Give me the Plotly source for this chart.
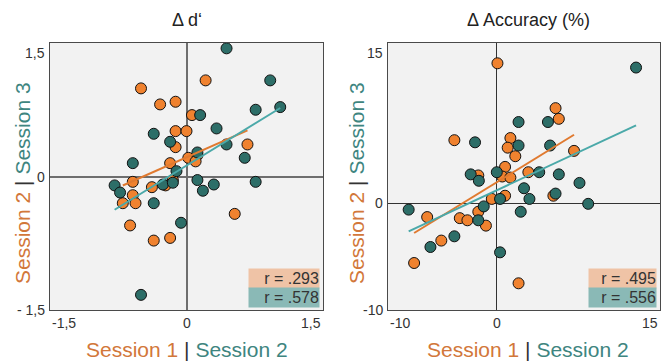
import numpy as np
import plotly.graph_objects as go

# ---------------- data ----------------
# Panel A: Δ d'
dp_s1_x = [-0.50, 0.21, -0.29, -0.12, 0.06, -0.12, 0.00, -0.12, 0.67, 0.02, 0.12, 0.10,
           -0.18, -0.59, -0.38, -0.23, -0.15, -0.59, -0.70, -0.56, -0.62, -0.36, -0.18, 0.53]
dp_s2_y = [0.99, 1.08, 0.81, 0.84, 0.69, 0.51, 0.51, 0.33, 0.36, 0.21, 0.24, 0.17,
           0.15, -0.06, -0.12, -0.10, -0.04, -0.21, -0.30, -0.30, -0.55, -0.72, -0.69, -0.42]
dp_s2_x = [0.44, 0.92, 0.76, 1.03, 0.15, 0.33, -0.36, -0.18, 0.44, 0.64, 0.12, -0.59,
           -0.11, 0.12, 0.30, 0.18, 0.76, -0.79, -0.73, -0.26, -0.15, -0.36, -0.06, -0.50]
dp_s3_y = [1.44, 1.08, 0.75, 0.78, 0.69, 0.54, 0.48, 0.39, 0.36, 0.21, 0.27, 0.15,
           0.06, -0.04, -0.09, -0.16, -0.06, -0.10, -0.18, -0.09, -0.07, -0.30, -0.52, -1.33]

# Panel B: Δ Accuracy (%)
acc_s1_x = [0.06, 5.4, 5.7, -3.9, 1.25, 1.0, 1.7, 7.1, 0.76, -1.7, 0.5, 1.25,
            2.9, 0.76, -0.46, 5.2, -6.4, -3.4, -2.7, -1.7, -1.0, -5.1, -7.6, 2.0]
acc_s2_y = [13.1, 8.9, 7.9, 5.9, 6.1, 5.2, 4.4, 4.9, 3.4, 2.6, 2.5, 2.4,
            2.9, 0.7, 0.4, 0.7, -1.3, -1.4, -1.6, -0.8, -2.1, -3.5, -5.6, -7.5]
acc_s2_x = [12.8, 2.0, 4.7, -2.0, 2.0, 4.9, -2.4, -1.65, 0.0, 3.9, 5.7, 7.6,
            2.5, 5.4, 3.0, 0.3, 8.4, -8.1, -1.2, -1.7, 2.2, -3.9, -6.1, 0.3]
acc_s3_y = [12.7, 7.6, 7.6, 5.7, 5.4, 5.4, 2.7, 2.1, 2.9, 2.9, 2.7, 1.9,
            1.4, 0.9, 0.4, 0.4, -0.06, -0.6, -0.3, -1.6, -0.8, -3.1, -4.1, -4.6]

panel_titles = ["Δ d‘", "Δ Accuracy (%)"]
r_labels_a = ["r = .293", "r = .578"]
r_labels_b = ["r = .495", "r = .556"]
ticks_a = [-1.5, 0, 1.5]
ticktext_ax = ["-1,5", "0", "1,5"]
ticktext_ay = ["- 1,5", "0", "1,5"]
ticks_b = [-10, 0, 15]
ticktext_b = ["-10", "0", "15"]

# ---------------- style ----------------
W, H = 665, 363
ORANGE = "#F0822F"
TEAL = "#2D6E68"
ORANGE_LINE = "#E07A30"
TEAL_LINE = "#4BA9A9"
ORANGE_BOX = "#EFC3A6"
TEAL_BOX = "#8AB9B6"
ORANGE_TXT = "#D2773A"
TEAL_TXT = "#3E8580"
FONT = "Liberation Sans, Arial, sans-serif"

fig = go.Figure()


def add_panel(xs_o, ys_o, xs_t, ys_t, xa, ya):
    for xs, ys, col in [(xs_o, ys_o, ORANGE), (xs_t, ys_t, TEAL)]:
        fig.add_trace(go.Scatter(x=xs, y=ys, mode="markers", xaxis=xa, yaxis=ya,
                                 marker=dict(size=11, color=col, line=dict(color="#111", width=1)),
                                 showlegend=False))
    for xs, ys, lcol in [(xs_o, ys_o, ORANGE_LINE), (xs_t, ys_t, TEAL_LINE)]:
        m, b = np.polyfit(xs, ys, 1)
        lx = np.array([min(xs), max(xs)])
        fig.add_trace(go.Scatter(x=lx, y=m * lx + b, mode="lines", xaxis=xa, yaxis=ya,
                                 line=dict(color=lcol, width=2), showlegend=False))


add_panel(dp_s1_x, dp_s2_y, dp_s2_x, dp_s3_y, "x", "y")
add_panel(acc_s1_x, acc_s2_y, acc_s2_x, acc_s3_y, "x2", "y2")

px = lambda v: v / W
py = lambda v: 1 - v / H

ax_common = dict(showgrid=False, showline=True, mirror=True, linecolor="#4a4a4a", linewidth=1,
                 ticks="", showticklabels=False)
fig.update_layout(
    width=W, height=H, margin=dict(l=0, r=0, t=0, b=0),
    paper_bgcolor="white", plot_bgcolor="#F2F2F2",
    font=dict(family=FONT, color="#333"),
    xaxis=dict(domain=[px(50), px(323)], range=[-1.5, 1.5], anchor="y",
               zeroline=True, zerolinecolor="#6e6e6e", zerolinewidth=1.5, **ax_common),
    yaxis=dict(domain=[py(310), py(43)], range=[-1.5, 1.5], anchor="x",
               zeroline=True, zerolinecolor="#6e6e6e", zerolinewidth=1.5, **ax_common),
    xaxis2=dict(domain=[px(388), px(660)], range=[-10, 15], anchor="y2",
                zeroline=True, zerolinecolor="#333", zerolinewidth=1, **ax_common),
    yaxis2=dict(domain=[py(310), py(43)], range=[-10, 15], anchor="x2",
                zeroline=True, zerolinecolor="#333", zerolinewidth=1, **ax_common),
)

ann = []
# panel titles
for t, cx in zip(panel_titles, [186.5, 528]):
    ann.append(dict(text=t, x=px(cx), y=py(20), xref="paper", yref="paper", showarrow=False,
                    font=dict(size=18, color="#222"), xanchor="center", yanchor="middle"))

# axis titles
xt = (f"<span style='color:{ORANGE_TXT}'>Session 1</span> <span style='color:#333'>|</span> "
      f"<span style='color:{TEAL_TXT}'>Session 2</span>")
yt = (f"<span style='color:{ORANGE_TXT}'>Session 2</span> <span style='color:#333'>|</span> "
      f"<span style='color:{TEAL_TXT}'>Session 3</span>")
for cx in [186.5, 528]:
    ann.append(dict(text=xt, x=px(cx), y=py(349), xref="paper", yref="paper", showarrow=False,
                    font=dict(size=21), xanchor="center", yanchor="middle"))
for cx in [22, 356]:
    ann.append(dict(text=yt, x=px(cx), y=py(183), xref="paper", yref="paper", showarrow=False,
                    font=dict(size=21), textangle=-90, xanchor="center", yanchor="middle"))

# tick labels
def tick_labels(xa, ya, vals, xtext, ytext):
    n = len(vals)
    for i, (v, t) in enumerate(zip(vals, xtext)):
        anc = "left" if i == 0 else ("right" if i == n - 1 else "center")
        ann.append(dict(text=t, x=v, y=0, xref=xa, yref=ya + " domain", yshift=-3,
                        showarrow=False, font=dict(size=14, color="#333"),
                        xanchor=anc, yanchor="top"))
    for i, (v, t) in enumerate(zip(vals, ytext)):
        anc = "top" if i == n - 1 else "middle"
        ann.append(dict(text=t, x=0, y=v, xref=xa + " domain", yref=ya, xshift=-3,
                        showarrow=False, font=dict(size=14, color="#333"),
                        xanchor="right", yanchor=anc))


tick_labels("x", "y", ticks_a, ticktext_ax, ticktext_ay)
tick_labels("x2", "y2", ticks_b, ticktext_b, ticktext_b)

# r boxes
def r_boxes(xa, ya, labels, wpx):
    for lab, col, ypx in zip(labels, [ORANGE_BOX, TEAL_BOX], [278.5, 297.5]):
        ann.append(dict(text=lab, x=1, y=(310 - ypx) / 267, xref=xa + " domain",
                        yref=ya + " domain", xshift=-3, showarrow=False,
                        font=dict(size=16, color="#333"), bgcolor=col, width=wpx, height=19,
                        align="right", xanchor="right", yanchor="middle", borderpad=0))


r_boxes("x", "y", r_labels_a, 70)
r_boxes("x2", "y2", r_labels_b, 67)

fig.update_layout(annotations=ann)
fig.write_html("out.html", config={"displayModeBar": False},
               post_script="document.body.style.margin='0';document.body.style.overflow='hidden';")
